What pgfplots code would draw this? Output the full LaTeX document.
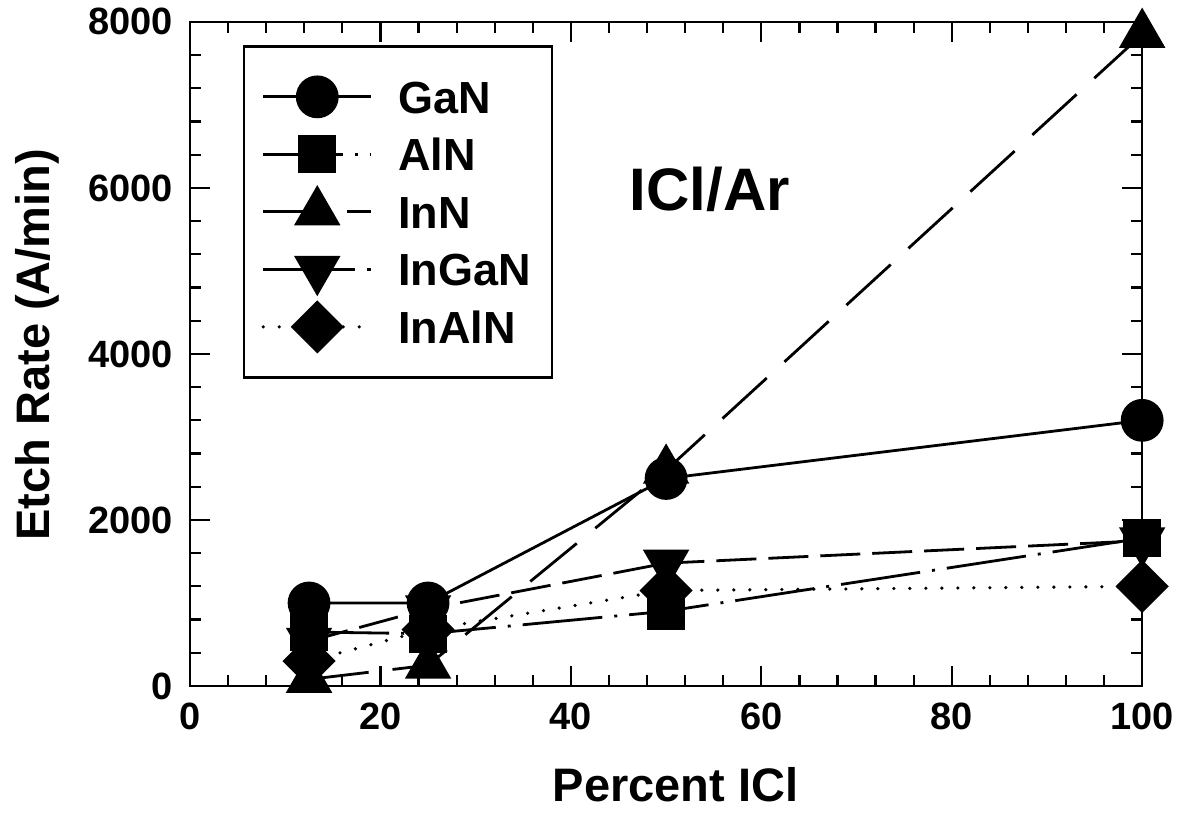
\documentclass[border=0pt]{standalone}
\usepackage{pgfplots}
\pgfplotsset{compat=1.18}
\usepackage{fontspec}
\setmainfont{Liberation Sans}
\begin{document}
\begin{tikzpicture}
\begin{axis}[
  scale only axis,
  width=476pt, height=332pt,
  xmin=0, xmax=100, ymin=0, ymax=8000,
  xtick={0,20,...,100}, ytick={0,2000,...,8000},
  minor x tick num=4, minor y tick num=4,
  tick align=inside,
  major tick length=10pt, minor tick length=5.5pt,
  axis line style={line width=1.2pt},
  every tick/.style={line width=1.1pt, black},
  scaled y ticks=false,
  /pgf/number format/1000 sep={},
  /pgf/number format/assume math mode=true,
  ticklabel style={font=\fontsize{19}{19}\selectfont\bfseries},
  yticklabel style={xshift=-5pt},
  xticklabel style={yshift=-5pt},
  xlabel={Percent ICl},
  ylabel={Etch Rate (A/min)},
  label style={font=\fontsize{23.5}{24}\selectfont\bfseries},
  xlabel style={at={(axis description cs:0.51,-0.149)}, anchor=center},
  ylabel style={at={(axis description cs:-0.16,0.514)}, anchor=center},
  clip=false,
  legend cell align=left,
  legend image code/.code={%
    \path[draw=none, fill=none] (0pt,-8pt) rectangle (54pt,8pt);
    \draw[mark repeat=2,mark phase=2,#1,overlay] plot coordinates {(0pt,0pt)(27pt,0pt)(54pt,0pt)};},
  legend style={at={(0.0557,0.965)}, anchor=north west,
    draw=black, line width=1.2pt, fill=white,
    inner xsep=9.5pt, inner ysep=16pt,
    column sep=12.5pt, row sep=10.25pt,
    font=\fontsize{22.5}{23}\selectfont\bfseries,
    nodes={inner sep=1pt, text height=16.5pt, text depth=0pt}},
]
\addplot[black, line width=1.4pt, mark=*, mark size=10pt, mark options={solid, fill=black}]
  coordinates {(12.5,1000) (25,1000) (50,2500) (100,3200)};
\addlegendentry{GaN}
\addplot[black, line width=1.4pt, dash pattern=on 40pt off 6pt on 1.5pt off 6pt,
  mark=square*, mark size=8.75pt, mark options={solid, fill=black}]
  coordinates {(12.5,650) (25,630) (50,900) (100,1780)};
\addlegendentry{AlN}
\addplot[black, line width=1.4pt, dash pattern=on 30pt off 12pt,
  mark=triangle*, mark size=12pt, mark options={solid, fill=black}]
  coordinates {(12.5,80) (25,250) (50,2600) (100,7850)};
\addlegendentry{InN}
\addplot[black, line width=1.4pt, dash pattern=on 20pt off 6pt,
  mark=triangle*, mark size=12pt, mark options={solid, fill=black, rotate=180}]
  coordinates {(12.5,540) (25,930) (50,1480) (100,1750)};
\addlegendentry{InGaN}
\addplot[black, line width=1.8pt, line cap=round, dash pattern=on 0pt off 8pt,
  mark=square*, mark size=8.5pt, mark options={solid, fill=black, rotate=45}]
  coordinates {(12.5,300) (25,680) (50,1150) (100,1200)};
\addlegendentry{InAlN}
\node[font=\fontsize{30}{30}\selectfont\bfseries, anchor=center] at (axis cs:54.6,5980) {ICl/Ar};
\path (rel axis cs:-0.1996,-0.191) rectangle (rel axis cs:1.045,1.033);
\end{axis}
\end{tikzpicture}
\end{document}
